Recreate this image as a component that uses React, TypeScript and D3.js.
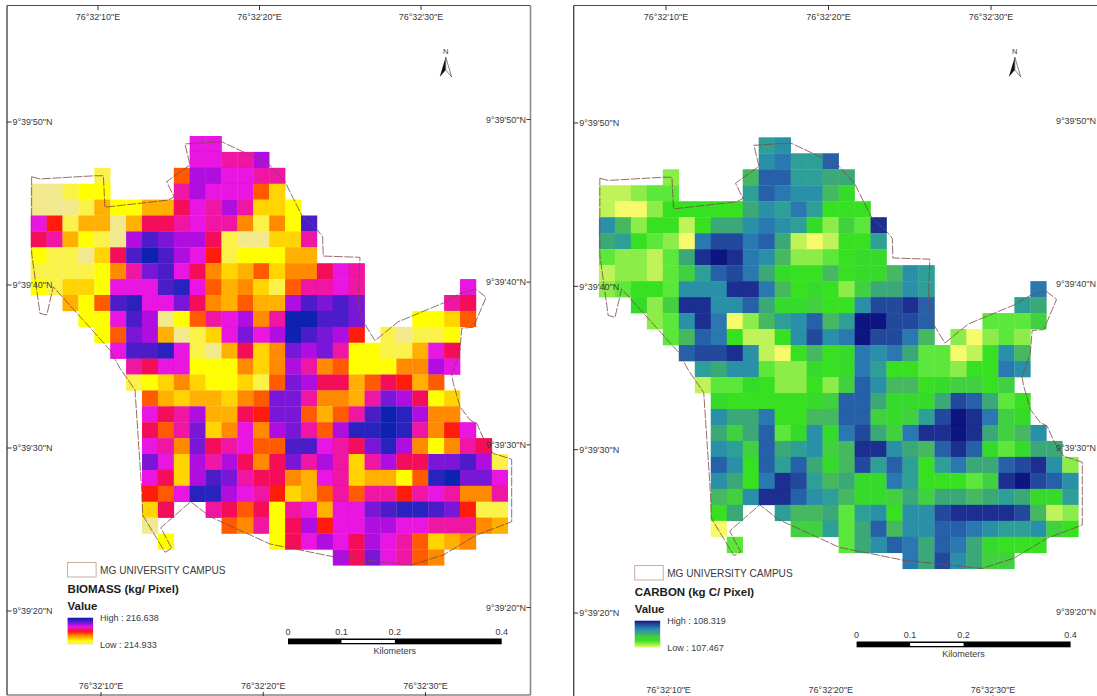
import React from "react";
import * as d3 from "d3";

// Raster cells, coded 0-f from the lowest to the highest class; "." = no data
const biomassRows = [
  "..........aa..................",
  "..........aa99b...............",
  "....1....6bbaa99..............",
  "00122....9baaa63..............",
  "0001422448a9b9332.............",
  "a714404889a995152d............",
  "894210bdcbb8100339............",
  "211038dfdba7122244............",
  "1111259cda853463558a9.........",
  "21332aaadea64531699a9......a..",
  "..426deaac854644bdcdc.....98..",
  "...22adb0269ab59ffddc...2236..",
  "....26cb4013acabfdcb7.10112...",
  ".....addea104835cbc922114a8...",
  "......98aa222535b95622255ba...",
  "......1235322316cb88468746....",
  ".......64344356cc95549cb823...",
  ".......a89b4487cc6469dfeb55...",
  ".......869c35a5bc96beefe957a..",
  ".......a95c89a66dda98ceb52598.",
  ".......ca3b9b858c9b939b88ccdb1",
  ".......a83bdc98854a934426efcca",
  ".......76aeeba97346969979a9559",
  ".......38..986829a4aacdeedc711",
  ".......0....65928b7aabbaa99954",
  "........2......28aba8ba96345..",
  "...................b8ca965....",
];
const carbonRows = [
  "..........9a..................",
  "..........ab99c...............",
  "....2....7cc9988..............",
  "11233....9cbaa75..............",
  "100244444" + "8a9b9444.............",
  "a72441488" + "aba95263e............",
  "894320bddbc8101449............",
  "322138efeba7223455............",
  "1221369cdb854474557a9.........",
  "23443aaaeeb7454268" + "8a9......b..",
  "..526eeaac855644addec.....98..",
  "...23aeb0279ac79ffddc...3336..",
  "....37cb4114adabfddb7.20232...",
  ".....cddea104745bab833014a7...",
  "......98aa322545b94433244ba...",
  "......1335422426ca77456646....",
  ".......54444456cc85558dc834...",
  ".......a88b4477cc6569dfeb65...",
  ".......868c35a5bd86beefe867a..",
  ".......a96c89a67eea87cec53588.",
  ".......ca4c9c857d9c949b88cdea2",
  ".......a84bed97855b944436efdca",
  ".......76aeeca97556868878" + "98559",
  ".......48..977839a4aadeeeed712",
  ".......0....66938c7aaccba99a64",
  "........3......38acb8cb85444..",
  "...................b8da866....",
];

const biomassRamp = ["#f2e88e","#fbf24a","#ffff00","#ffd400","#ffb000","#ff8a00","#ff5a00","#ff1c10","#f41058","#f012a4","#e812e0","#b010e0","#7a18d8","#4c1cc8","#2a20bf","#0a20b0"];
const carbonRamp = ["#f5fb6a","#c0f25a","#8cec48","#5ce83a","#38e020","#36da2c","#3fd040","#45b860","#3aa878","#2f9f96","#2a90a8","#2a78b0","#2560a8","#204a9c","#1a2f90","#0a1280"];

// Campus boundary, in raster column / row units
const boundary: [number, number][] = [
  [0.06,2.56],[0.58,2.7],[4.04,2.5],[4.57,2.5],[4.67,4.48],[8.65,4.03],[9.01,3.82],[8.55,2.87],[10.02,1.82],[9.7,0.5],
  [12.01,0.36],[13.48,1.05],[14.94,1.72],[15.99,2.87],[17.04,4.97],[18.03,5.91],[18.36,6.33],[18.4,7.55],[20.71,7.63],
  [20.6,10.52],[20.96,11.74],[21.65,12.87],[23.12,11.68],[26.01,10.48],[27,9.89],[28,9.64],[28.64,10.14],[27.84,12.03],
  [27.11,12.09],[27,13.46],[26.48,15.03],[26.58,15.55],[27,17.03],[27.63,17.86],[28.05,18.07],[28.47,19.01],[29.09,19.96],
  [30.25,20.33],[30.25,24.26],[28.05,25.09],[25.95,26.35],[23.96,26.98],[19.03,26.46],[15.05,25.66],[11.28,23.94],[10.06,23],
  [8.18,24.64],[8.87,25.93],[8.45,26.18],[7.04,23.84],[6.98,22.26],[6.56,15.97],[5.62,14.61],[4.99,13.46],[1.42,9.48],
  [1.01,11.26],[0.58,11.15],[0.06,7.38],[0.06,2.56],
];

const lonSeconds = [10, 20, 30];
const latSeconds = [50, 40, 30, 20];
const scaleKm = [0, 0.1, 0.2, 0.4];

const fmtLon = (s: number) => `76°32'${s}"E`;
const fmtLat = (s: number) => `9°39'${s}"N`;

const panels = [
  {
    id: "bio", rows: biomassRows, ramp: biomassRamp, title: "BIOMASS (kg/ Pixel)", high: 216.638, low: 214.933,
    x0: 30.7, y0: 136, cell: 15.9,
    frame: [7, 5.5, 530.5, 695], drawRight: true, drawBottom: true,
    topLon: [98, 421], botLon: [101, 425.5], leftLat: [122, 611], rightLat: [119.5, 607.5], rightEnd: 526,
    botLabelY: 689, north: [445.7, 57],
    legendX: 67.6, legendDy: 0, barX: [288, 501.7],
  },
  {
    id: "car", rows: carbonRows, ramp: carbonRamp, title: "CARBON (kg C/ Pixel)", high: 108.319, low: 107.467,
    x0: 598.9, y0: 137.3, cell: 15.98,
    frame: [573.7, 5.5, 1100, 700], drawRight: false, drawBottom: false,
    topLon: [666, 991], botLon: [668.6, 993], leftLat: [123, 613], rightLat: [120.5, 611.5], rightEnd: 1096,
    botLabelY: 692.5, north: [1014.8, 57],
    legendX: 634.7, legendDy: 3, barX: [856.6, 1070.6],
  },
];

const font = "'Liberation Sans', Arial, sans-serif";

function Panel({ p }: { p: (typeof panels)[number] }) {
  const levels = d3.range(16);
  const value = d3.scaleLinear().domain([0, 15]).range([p.low, p.high]);
  const colour = d3.scaleLinear<string>().domain(levels.map((l) => value(l))).range(p.ramp);
  const gx = d3.scaleLinear().domain([0, 30]).range([p.x0, p.x0 + 30 * p.cell]);
  const gy = d3.scaleLinear().domain([0, 27]).range([p.y0, p.y0 + 27 * p.cell]);
  const line = d3.line<[number, number]>().x((d) => gx(d[0])).y((d) => gy(d[1]));
  const topX = d3.scaleLinear().domain([10, 30]).range(p.topLon);
  const botX = d3.scaleLinear().domain([10, 30]).range(p.botLon);
  const leftY = d3.scaleLinear().domain([50, 20]).range(p.leftLat);
  const rightY = d3.scaleLinear().domain([50, 20]).range(p.rightLat);
  const bar = d3.scaleLinear().domain([0, 0.4]).range(p.barX);
  const [fx0, fy0, fx1, fy1] = p.frame;
  const lx = p.legendX;
  const dy = p.legendDy;
  const [nx, ny] = p.north;
  const text = "#3a3a3a";
  return (
    <g fontFamily={font} fill={text}>
      <defs>
        <linearGradient id={`ramp-${p.id}`} x1="0" y1="1" x2="0" y2="0">
          {p.ramp.map((c, i) => (
            <stop key={i} offset={i / (p.ramp.length - 1)} stopColor={c} />
          ))}
        </linearGradient>
        <filter id={`soft-${p.id}`} x="-2%" y="-2%" width="104%" height="104%">
          <feGaussianBlur stdDeviation={0.45} />
        </filter>
      </defs>

      <g filter={`url(#soft-${p.id})`}>
        {p.rows.map((row, r) =>
          row.split("").map((ch, c) =>
            ch === "." ? null : (
              <rect key={`${r}-${c}`} x={gx(c)} y={gy(r)} width={p.cell + 0.3} height={p.cell + 0.3}
                fill={colour(value(parseInt(ch, 16)))} />
            )
          )
        )}
      </g>
      <path d={line(boundary) ?? ""} fill="none" stroke="#7a4a44" strokeWidth={0.8} strokeDasharray="9 1.5" />

      <line x1={fx0} y1={fy0} x2={fx0} y2={fy1} stroke="#4a4a4a" strokeWidth={1.4} />
      <line x1={fx0} y1={fy0} x2={fx1} y2={fy0} stroke="#4a4a4a" strokeWidth={1.2} />
      {p.drawRight && <line x1={fx1} y1={fy0} x2={fx1} y2={fy1} stroke="#8a8a8a" strokeWidth={1.6} />}
      {p.drawBottom && <line x1={fx0} y1={fy1} x2={fx1} y2={fy1} stroke="#4a4a4a" strokeWidth={1.2} />}

      {lonSeconds.map((s) => (
        <g key={`lon${s}`} fontSize={9} textAnchor="middle">
          <line x1={topX(s)} x2={topX(s)} y1={fy0} y2={10} stroke="#333" strokeWidth={1} />
          <text x={topX(s)} y={20}>{fmtLon(s)}</text>
          <text x={botX(s)} y={p.botLabelY}>{fmtLon(s)}</text>
          <line x1={botX(s)} x2={botX(s)} y1={p.botLabelY + 3} y2={696} stroke="#333" strokeWidth={1} />
        </g>
      ))}
      {latSeconds.map((s) => (
        <g key={`lat${s}`} fontSize={9}>
          <line x1={fx0} x2={fx0 + 4.5} y1={leftY(s)} y2={leftY(s)} stroke="#333" strokeWidth={1} />
          <text x={fx0 + 5.5} y={leftY(s) + 3.2}>{fmtLat(s)}</text>
          <text x={p.rightEnd} y={rightY(s) + 3.2} textAnchor="end">{fmtLat(s)}</text>
          {p.drawRight && <line x1={p.rightEnd + 0.5} x2={fx1} y1={rightY(s)} y2={rightY(s)} stroke="#333" strokeWidth={1} />}
        </g>
      ))}

      <text x={nx} y={54} fontSize={7.5} textAnchor="middle">N</text>
      <polygon points={`${nx},${ny} ${nx - 6},${ny + 20} ${nx},${ny + 13}`} fill="#111" />
      <polygon points={`${nx},${ny} ${nx + 6},${ny + 20} ${nx},${ny + 13}`} fill="#fff" stroke="#333" strokeWidth={0.6} />

      <rect x={lx} y={562.5 + dy} width={28.5} height={14.5} fill="#fff" stroke="#c4a498" strokeWidth={0.9} />
      <text x={lx + 32.5} y={573.5 + dy} fontSize={10.1}>MG UNIVERSITY CAMPUS</text>
      <text x={lx} y={592.7 + dy} fontSize={11.5} fontWeight="bold" fill="#1c1c1c">{p.title}</text>
      <text x={lx} y={610 + dy} fontSize={11.4} fontWeight="bold" fill="#1c1c1c">Value</text>
      <rect x={lx} y={617.7 + dy} width={25.5} height={26.8} fill={`url(#ramp-${p.id})`} />
      <text x={lx + 32.5} y={621 + dy} fontSize={9}>{`High : ${p.high.toFixed(3)}`}</text>
      <text x={lx + 32.5} y={647.7 + dy} fontSize={9}>{`Low : ${p.low.toFixed(3)}`}</text>

      <rect x={bar(0)} y={638.5 + dy} width={bar(0.4) - bar(0)} height={5.8} fill="#000" />
      <rect x={bar(0.1)} y={640 + dy} width={bar(0.2) - bar(0.1)} height={3} fill="#fff" />
      {scaleKm.map((k) => (
        <text key={k} x={bar(k)} y={635 + dy} fontSize={9} textAnchor="middle">{k}</text>
      ))}
      <text x={bar(0.2)} y={654 + dy} fontSize={9} textAnchor="middle">Kilometers</text>
    </g>
  );
}

export default function App() {
  return (
    <svg width={1097} height={696} viewBox="0 0 1097 696"
      style={{ position: "absolute", left: 0, top: 0, background: "#fff" }}>
      {panels.map((p) => <Panel key={p.id} p={p} />)}
    </svg>
  );
}
